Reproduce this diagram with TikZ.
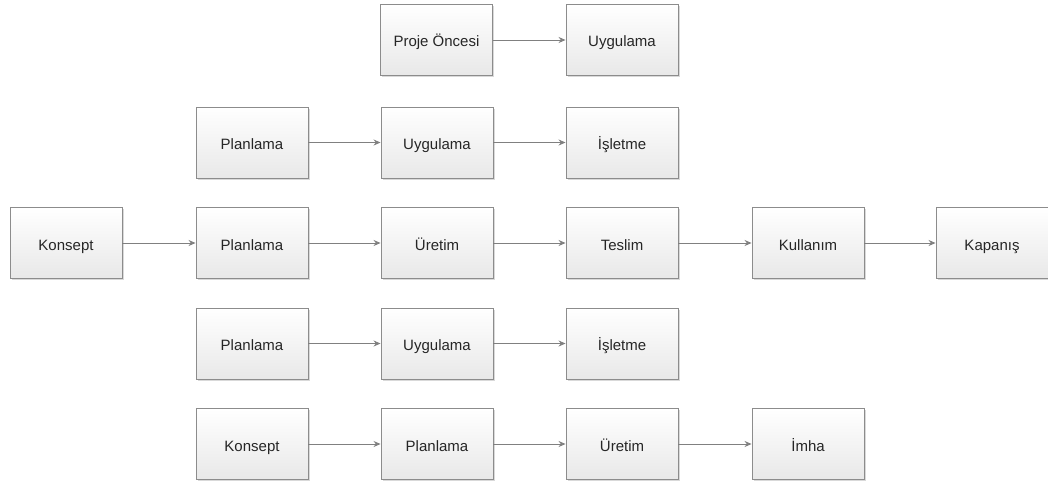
\documentclass[tikz,border=0pt]{standalone}
\usepackage{fontspec}
\setmainfont{Liberation Sans}
\usetikzlibrary{shadows,arrows.meta}
\definecolor{boxline}{HTML}{8C8C8C}
\definecolor{arrline}{HTML}{808080}
\tikzset{
  stage/.style={draw=boxline, line width=0.9pt, minimum width=112pt, minimum height=71pt,
    top color=white, bottom color=black!9, inner sep=0pt,
    text height=14pt, text depth=0pt,
    drop shadow={shadow xshift=1.5pt, shadow yshift=-1.5pt, fill=black!25, opacity=0.6},
    font=\fontsize{15}{18}\selectfont, text=black!85},
  flow/.style={draw=arrline, line width=0.9pt, -{Stealth[length=7pt,width=6pt]}}
}
\begin{document}
\begin{tikzpicture}[x=1pt,y=-1pt]
\useasboundingbox (0,0) rectangle (1048,487);
% row 1
\node[stage] (a1) at (436.5,40) {Proje Öncesi};
\node[stage] (a2) at (622,40) {Uygulama};
% row 2
\node[stage] (b1) at (252,142.5) {Planlama};
\node[stage] (b2) at (437,142.5) {Uygulama};
\node[stage] (b3) at (622,142.5) {İşletme};
% row 3
\node[stage] (c1) at (66,243) {Konsept};
\node[stage] (c2) at (252,243) {Planlama};
\node[stage] (c3) at (437,243) {Üretim};
\node[stage] (c4) at (622,243) {Teslim};
\node[stage] (c5) at (808,243) {Kullanım};
\node[stage] (c6) at (992,243) {Kapanış};
% row 4
\node[stage] (d1) at (252,343.5) {Planlama};
\node[stage] (d2) at (437,343.5) {Uygulama};
\node[stage] (d3) at (622,343.5) {İşletme};
% row 5
\node[stage] (e1) at (252,444) {Konsept};
\node[stage] (e2) at (437,444) {Planlama};
\node[stage] (e3) at (622,444) {Üretim};
\node[stage] (e4) at (808,444) {İmha};
% connectors
\draw[flow] (a1) -- (a2);
\draw[flow] (b1) -- (b2);
\draw[flow] (b2) -- (b3);
\draw[flow] (c1) -- (c2);
\draw[flow] (c2) -- (c3);
\draw[flow] (c3) -- (c4);
\draw[flow] (c4) -- (c5);
\draw[flow] (c5) -- (c6);
\draw[flow] (d1) -- (d2);
\draw[flow] (d2) -- (d3);
\draw[flow] (e1) -- (e2);
\draw[flow] (e2) -- (e3);
\draw[flow] (e3) -- (e4);
\end{tikzpicture}
\end{document}
